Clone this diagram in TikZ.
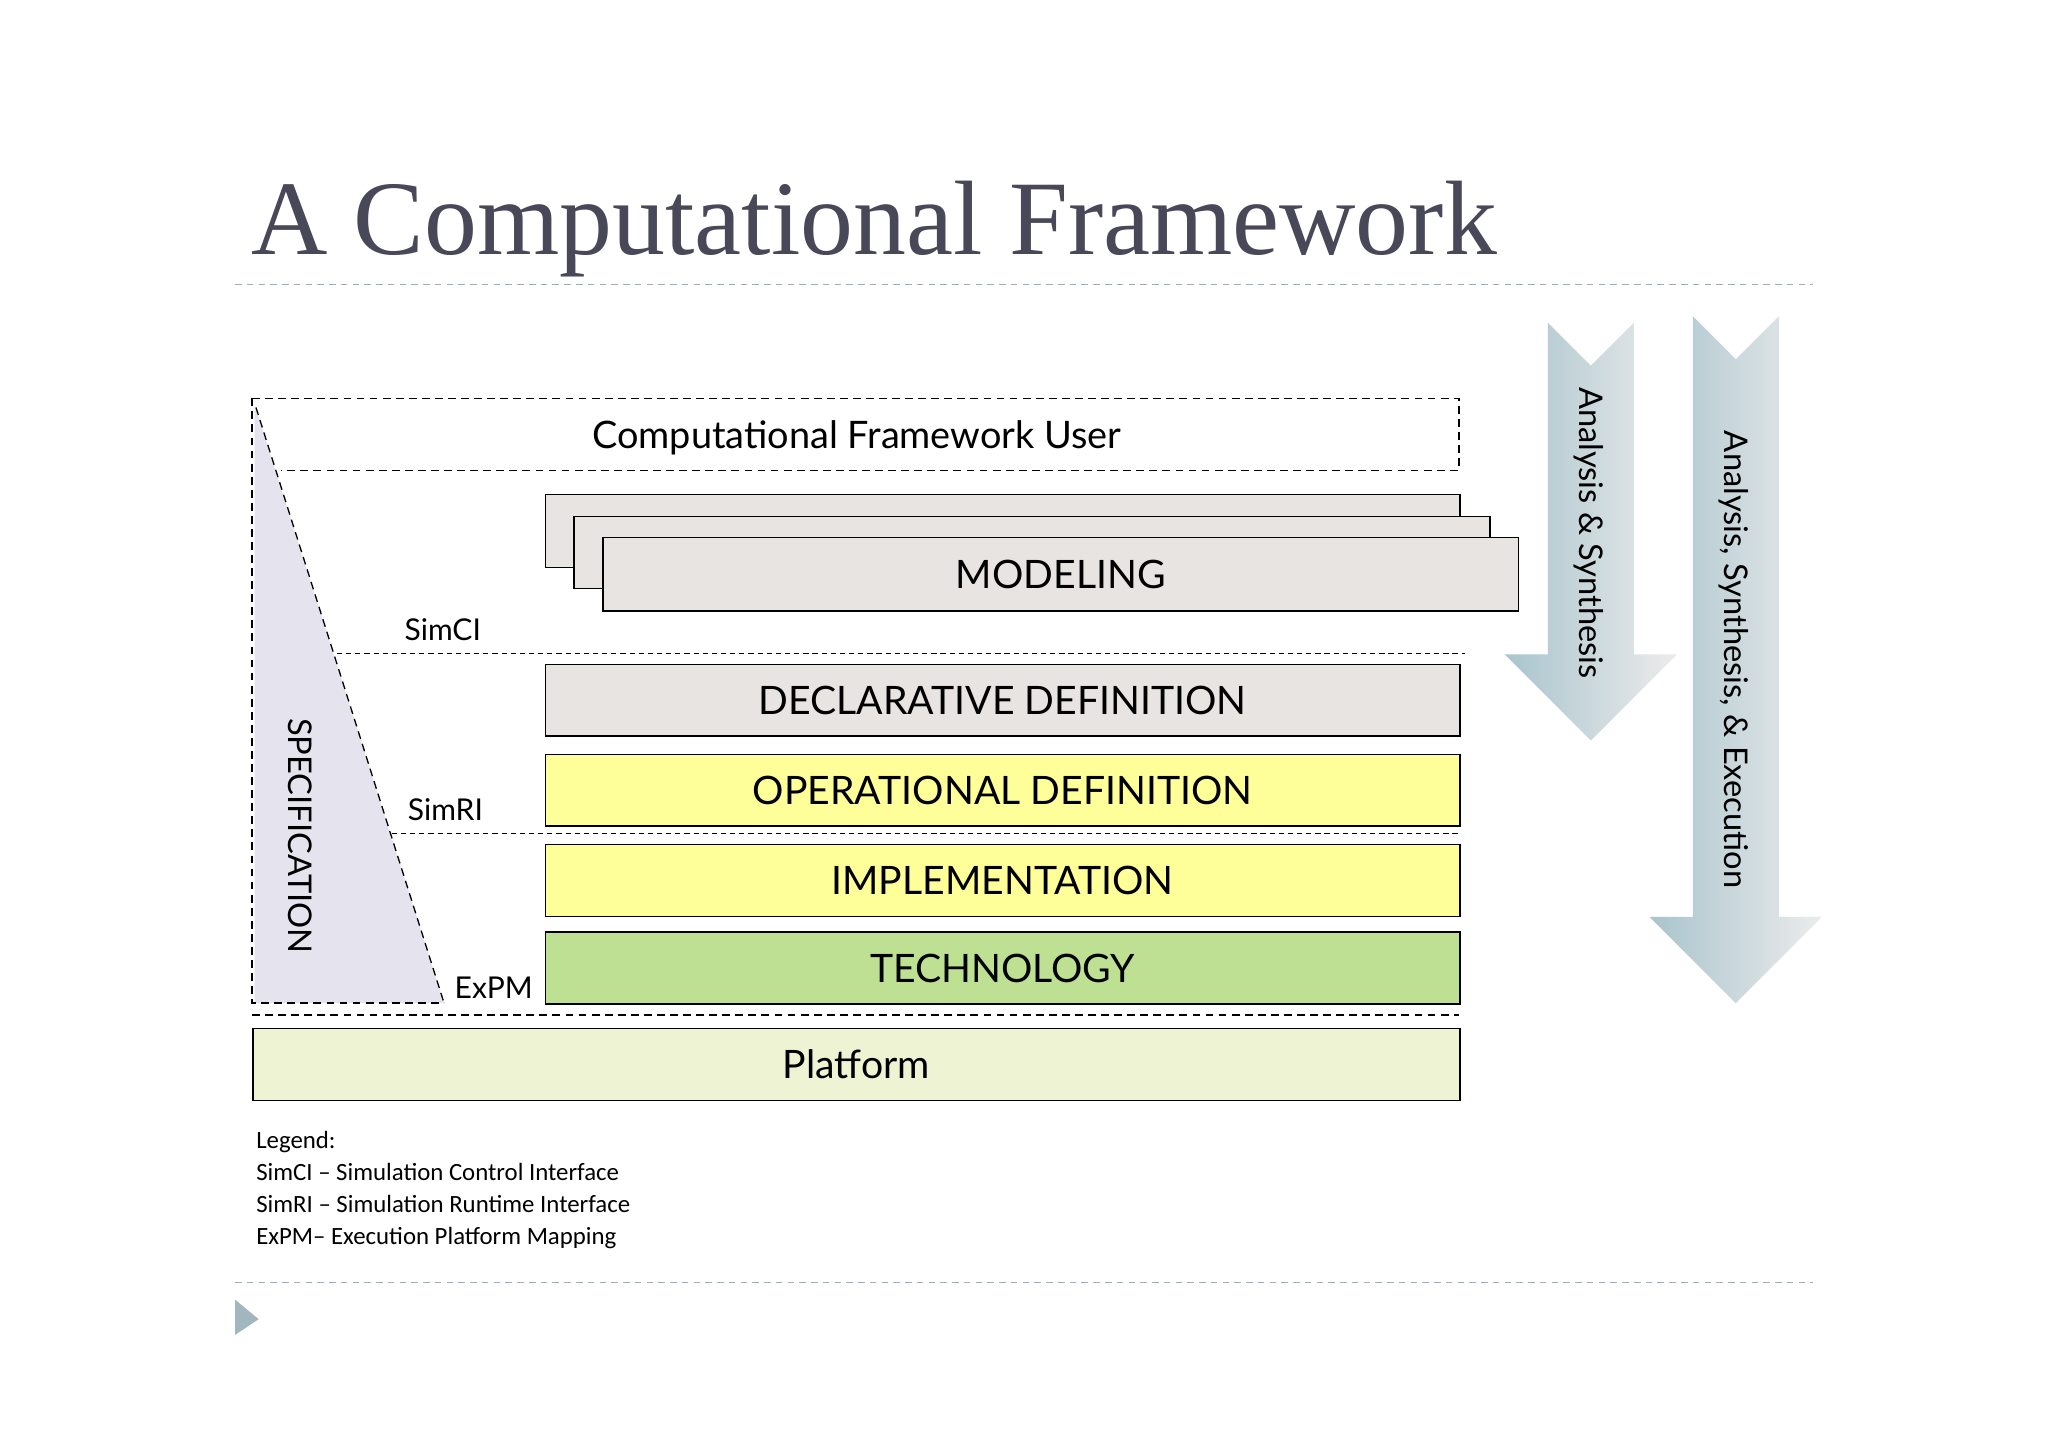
\documentclass[tikz,border=0pt]{standalone}
\usepackage{fontspec}
\setmainfont{Lato}
\newfontfamily\titlefont{Liberation Serif}
\newfontfamily\legfont{Carlito}
\begin{document}
\begin{tikzpicture}[x=1pt,y=-1pt,
  layer/.style={draw=black,line width=1.2pt,anchor=north west,inner sep=0pt},
  lt/.style={font=\fontsize{30}{30}\selectfont},
  lbl/.style={font=\fontsize{23}{23}\selectfont},
  dl/.style={dash pattern=on 6pt off 4pt,line width=1pt},
  sep/.style={dash pattern=on 5pt off 4pt,draw=arr!70!gray,line width=1pt}]
\definecolor{gr}{HTML}{E8E4E2}
\definecolor{yl}{HTML}{FFFF99}
\definecolor{gn}{HTML}{BDE093}
\definecolor{pf}{HTML}{EEF3D3}
\definecolor{lav}{HTML}{E4E3EE}
\definecolor{arr}{HTML}{A9C4CD}
\definecolor{ttl}{HTML}{484858}
\useasboundingbox (0,0) rectangle (1568,1108);
\fill[white] (0,0) rectangle (1568,1108);
\node[anchor=base west,inner sep=0pt,text=ttl,font=\titlefont\fontsize{81}{81}\selectfont] (title) at (192,195) {A Computational Framework};
\draw[sep] (180,218) -- (1388,218);
\draw[sep] (180,982) -- (1388,982);
\fill[arr!80!gray] (180,995) -- (198,1010) -- (180,1022) -- cycle;
% spec triangle
\fill[lav] (195,310) -- (340,768) -- (195,768) -- cycle;
\draw[dl] (196,312) -- (340,768);
\draw[dl] (193,305) -- (1117,305) -- (1117,360) -- (215,360);
\draw[dl] (193,305) -- (193,768) -- (340,768);
\node[font=\fontsize{29}{29}\selectfont] (user) at (656,335) {Computational Framework User};
\node[rotate=-90,font=\fontsize{25}{25}\selectfont] (spec) at (230,640) {SPECIFICATION};
% modeling stack
\node[layer,fill=gr,minimum width=700pt,minimum height=56pt] (m1) at (417,378) {};
\node[layer,fill=gr,minimum width=701pt,minimum height=55pt] (m2) at (439,395) {};
\node[layer,fill=gr,minimum width=701pt,minimum height=56pt,lt] (m3) at (461,411) {};
\node[lt] at (m3.center) {MODELING};
\node[lbl] (simci) at (339,482) {SimCI};
\draw[dl,line width=0.7pt,dash pattern=on 4pt off 3pt] (258,500) -- (1122,500);
\node[layer,fill=gr,minimum width=700pt,minimum height=55pt] (dec) at (417,508) {};
\node[lt] at (dec.center) {DECLARATIVE DEFINITION};
\node[layer,fill=yl,minimum width=700pt,minimum height=55pt] (op) at (417,577) {};
\node[lt] at (op.center) {OPERATIONAL DEFINITION};
\node[lbl] (simri) at (341,620) {SimRI};
\draw[dl,line width=0.7pt,dash pattern=on 4pt off 3pt] (300,638) -- (1117,638);
\node[layer,fill=yl,minimum width=700pt,minimum height=55pt] (imp) at (417,646) {};
\node[lt] at (imp.center) {IMPLEMENTATION};
\node[layer,fill=gn,minimum width=700pt,minimum height=55pt] (tech) at (417,713) {};
\node[lt] at (tech.center) {TECHNOLOGY};
\node[lbl] (expm) at (378,756) {ExPM};
\draw[dl] (193,777) -- (1117,777);
\node[layer,fill=pf,minimum width=924pt,minimum height=55pt] (plat) at (193,787) {};
\node[lt] at (plat.center) {Platform};
% legend
\node[anchor=west,font=\legfont\fontsize{19}{24.5}\selectfont,align=left,inner sep=0pt] (leg) at (196,911)
 {Legend:\\SimCI – Simulation Control Interface\\SimRI – Simulation Runtime Interface\\ExPM– Execution Platform Mapping};
% arrows
\shade[left color=arr,right color=gray!15] (1185,247) -- (1218,280) -- (1251,247) -- (1251,501) -- (1284,501) -- (1218,567) -- (1152,501) -- (1185,501) -- cycle;
\shade[left color=arr,right color=gray!15] (1296,242) -- (1329,275) -- (1362,242) -- (1362,702) -- (1395,702) -- (1329,768) -- (1263,702) -- (1296,702) -- cycle;
\node[rotate=-90,font=\fontsize{25}{25}\selectfont] (a1) at (1216,408) {Analysis \& Synthesis};
\node[rotate=-90,font=\fontsize{25}{25}\selectfont] (a2) at (1327,505) {Analysis, Synthesis, \& Execution};
\end{tikzpicture}
\end{document}
